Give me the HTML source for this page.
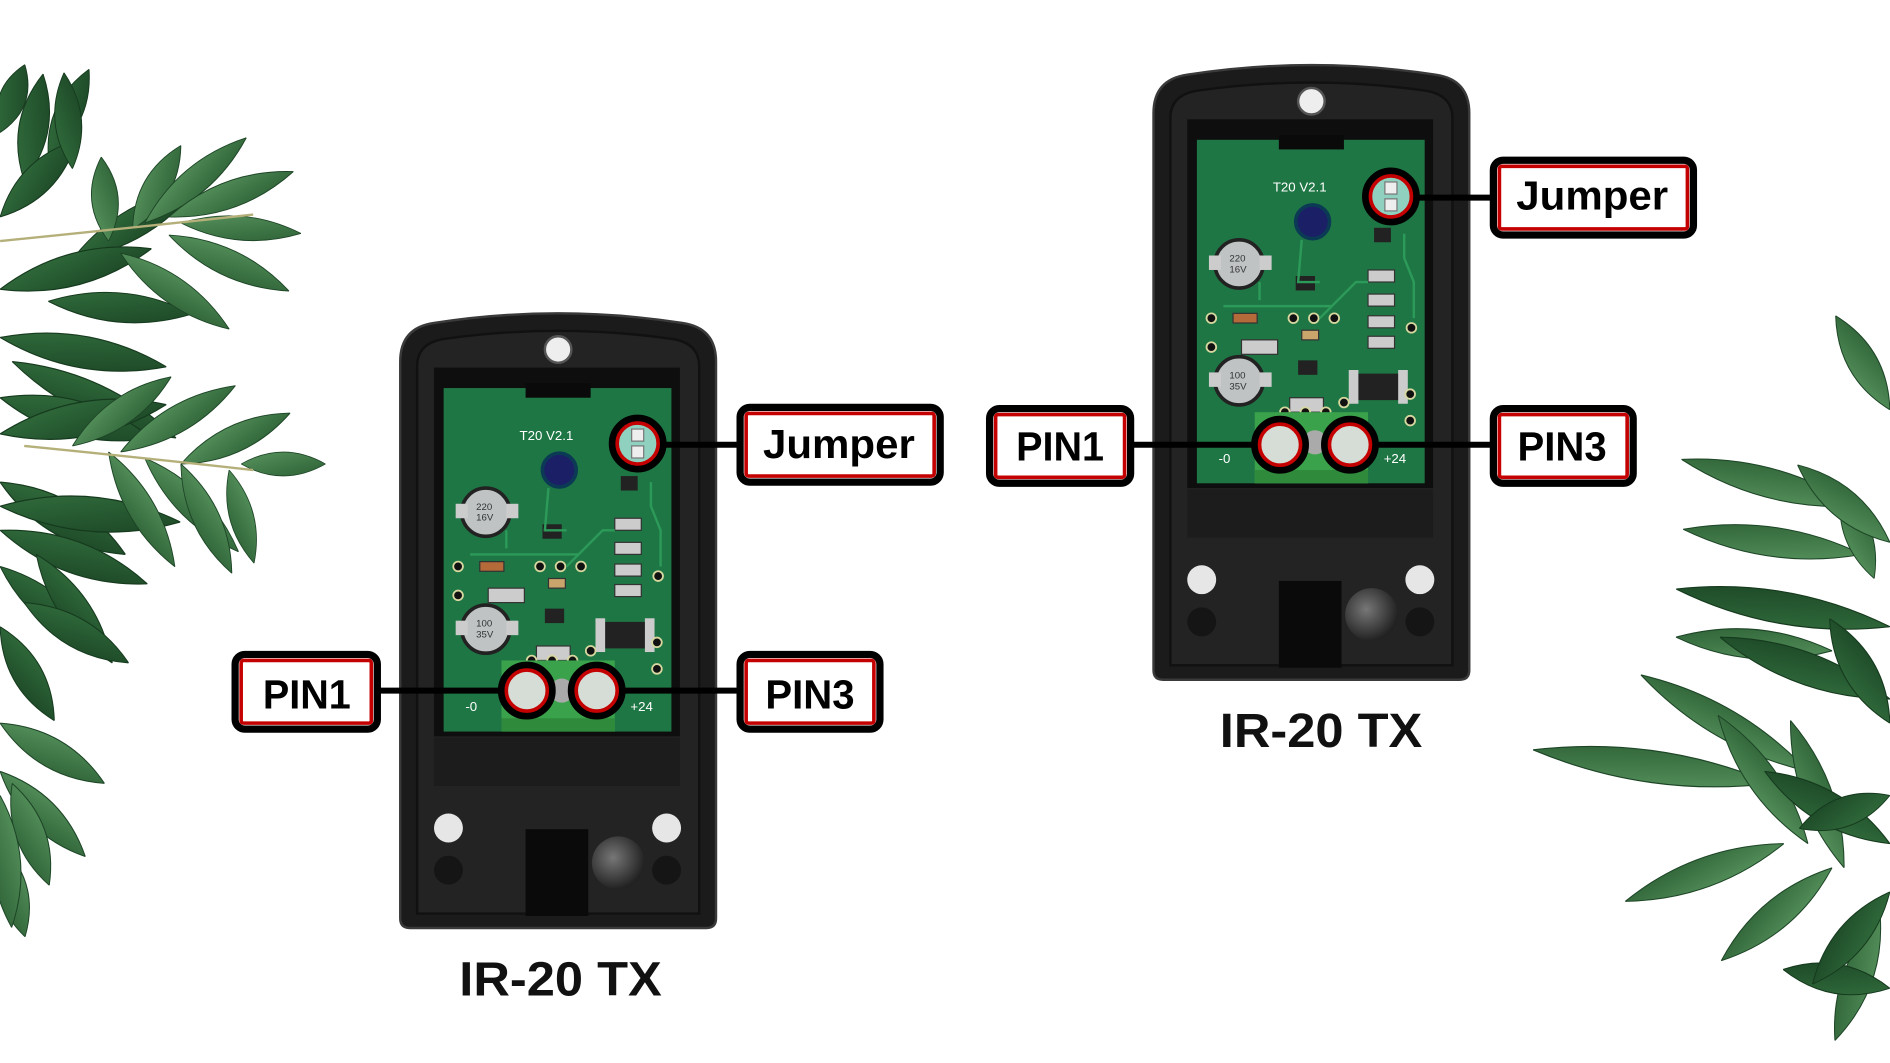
<!DOCTYPE html>
<html><head><meta charset="utf-8"><style>
html,body{margin:0;padding:0;background:#fff;}
svg{display:block;}
text{font-family:"Liberation Sans",sans-serif;}
</style></head><body>
<svg width="1890" height="1063" viewBox="0 0 1568 882" xmlns="http://www.w3.org/2000/svg">
<defs>
<linearGradient id="lf" x1="0" y1="0" x2="1" y2="1"><stop offset="0" stop-color="#5a9660"/><stop offset="1" stop-color="#2a5e33"/></linearGradient>
<linearGradient id="lf2" x1="0" y1="0" x2="1" y2="1"><stop offset="0" stop-color="#336f3e"/><stop offset="1" stop-color="#1a4424"/></linearGradient>
<radialGradient id="dome" cx="0.4" cy="0.4" r="0.6"><stop offset="0" stop-color="#777"/><stop offset="1" stop-color="#222"/></radialGradient>
<path id="L" d="M0,0 Q50,-11 100,0 Q50,11 0,0Z"/>
<g id="dev">
  <path d="M332,300 Q332,272 360,268 Q463,252 566,268 Q594,272 594,300 L594,762 Q594,770 586,770 L340,770 Q332,770 332,762Z" fill="#1b1b1b" stroke="#3a3a3a" stroke-width="2"/>
  <path d="M346,304 Q346,284 370,281 Q463,268 556,281 Q580,284 580,304 L580,758 L346,758Z" fill="#232323" stroke="#111" stroke-width="2"/>
  <circle cx="463" cy="290" r="11" fill="#eee" stroke="#555" stroke-width="2"/>
  <rect x="360" y="305" width="204" height="306" fill="#0e0e0e"/>
  <rect x="368" y="322" width="189" height="285" fill="#1f7645"/>
  <rect x="436" y="318" width="54" height="12" fill="#0a0a0a"/>
  <rect x="360" y="612" width="204" height="40" fill="#1c1c1c"/>
  <circle cx="372" cy="687" r="12" fill="#e6e6e6"/><circle cx="553" cy="687" r="12" fill="#e6e6e6"/>
  <circle cx="372" cy="722" r="12" fill="#151515"/><circle cx="553" cy="722" r="12" fill="#151515"/>
  <rect x="436" y="688" width="52" height="72" fill="#0a0a0a"/>
  <circle cx="513" cy="716" r="22" fill="url(#dome)"/>
  <circle cx="464" cy="390" r="14" fill="#1b1f66" stroke="#0b3a55" stroke-width="3"/>
  <circle cx="403" cy="425" r="20" fill="#bfc3c3" stroke="#222" stroke-width="3"/>
  <circle cx="403" cy="522" r="20" fill="#bfc3c3" stroke="#222" stroke-width="3"/>
  <rect x="378" y="418" width="10" height="12" fill="#ccc"/><rect x="420" y="418" width="10" height="12" fill="#ccc"/>
  <rect x="378" y="515" width="10" height="12" fill="#ccc"/><rect x="420" y="515" width="10" height="12" fill="#ccc"/>
  <g fill="#ccc" stroke="#333" stroke-width="1">
   <rect x="510" y="430" width="22" height="10"/><rect x="510" y="450" width="22" height="10"/><rect x="510" y="468" width="22" height="10"/><rect x="510" y="485" width="22" height="10"/>
   <rect x="398" y="466" width="20" height="8" fill="#b56a3a"/><rect x="405" y="488" width="30" height="12"/><rect x="445" y="536" width="28" height="12"/>
   <rect x="455" y="480" width="14" height="8" fill="#c9a56b"/>
  </g>
  <rect x="500" y="516" width="36" height="22" fill="#222"/><rect x="535" y="513" width="8" height="28" fill="#ccc"/><rect x="494" y="513" width="8" height="28" fill="#ccc"/>
  <rect x="450" y="435" width="16" height="12" fill="#222"/><rect x="452" y="505" width="16" height="12" fill="#222"/><rect x="515" y="395" width="14" height="12" fill="#222"/>
  <g fill="#111" stroke="#d7d7a0" stroke-width="1.5">
   <circle cx="448" cy="470" r="4"/><circle cx="465" cy="470" r="4"/><circle cx="482" cy="470" r="4"/><circle cx="441" cy="548" r="4"/><circle cx="458" cy="548" r="4"/><circle cx="475" cy="548" r="4"/><circle cx="380" cy="470" r="4"/><circle cx="380" cy="494" r="4"/><circle cx="546" cy="478" r="4"/><circle cx="545" cy="533" r="4"/><circle cx="545" cy="555" r="4"/><circle cx="490" cy="540" r="4"/>
  </g>
  <g fill="none" stroke="#2c9a58" stroke-width="2">
   <path d="M455,405 L452,440 L470,440 M470,470 L500,440 L510,440 M540,400 L540,420 L548,440 L548,470 M390,460 L480,460 M420,455 L420,440"/>
  </g>
  <rect x="416" y="548" width="94" height="59" fill="#3aa24a"/>
  <rect x="416" y="596" width="94" height="11" fill="#2f8a3c"/>
  <circle cx="466" cy="573" r="10" fill="#aaa"/>
</g>
<g id="ring"><circle r="21" fill="none" stroke="#000" stroke-width="6"/><circle r="17" fill="none" stroke="#c40000" stroke-width="3"/></g>
</defs>
<rect width="1568" height="882" fill="#fff"/>

<!-- left leaves: dark mass -->
<g fill="url(#lf2)" stroke="#163a1e" stroke-width="0.4">
<use href="#L" transform="translate(60,215) rotate(-30) scale(1.2,2.2)"/>
<use href="#L" transform="translate(20,150) rotate(-80) scale(0.9,2.2)"/>
<use href="#L" transform="translate(40,130) rotate(-65) scale(0.8,2)"/>
<use href="#L" transform="translate(0,240) rotate(-15) scale(1.3,2.4)"/>
<use href="#L" transform="translate(0,280) rotate(10) scale(1.4,2.4)"/>
<use href="#L" transform="translate(10,300) rotate(25) scale(1.5,2.4)"/>
<use href="#L" transform="translate(0,330) rotate(15) scale(1.3,2.6)"/>
<use href="#L" transform="translate(0,400) rotate(30) scale(1.2,2.6)"/>
<use href="#L" transform="translate(0,440) rotate(20) scale(1.3,2.4)"/>
<use href="#L" transform="translate(0,470) rotate(40) scale(1.1,2.2)"/>
<use href="#L" transform="translate(30,460) rotate(55) scale(1.1,2.2)"/>
<use href="#L" transform="translate(0,520) rotate(60) scale(0.9,2.2)"/>
<use href="#L" transform="translate(40,250) rotate(5) scale(1.2,2.2)"/>
<use href="#L" transform="translate(0,180) rotate(-45) scale(0.9,2.2)"/>
<use href="#L" transform="translate(0,110) rotate(-70) scale(0.6,2)"/>
<use href="#L" transform="translate(0,360) rotate(-10) scale(1.4,2.6)"/>
<use href="#L" transform="translate(0,420) rotate(5) scale(1.5,2.6)"/>
<use href="#L" transform="translate(20,500) rotate(30) scale(1.0,2.2)"/>
<use href="#L" transform="translate(60,140) rotate(-95) scale(0.8,2)"/>
</g>
<g fill="url(#lf)" stroke="#1d4526" stroke-width="0.4">
<use href="#L" transform="translate(110,190) rotate(-60) scale(0.8,2)"/>
<use href="#L" transform="translate(90,200) rotate(-95) scale(0.7,2)"/>
<use href="#L" transform="translate(120,185) rotate(-40) scale(1.1,2)"/>
<use href="#L" transform="translate(140,180) rotate(-20) scale(1.1,2)"/>
<use href="#L" transform="translate(150,185) rotate(5) scale(1.0,1.8)"/>
<use href="#L" transform="translate(140,195) rotate(25) scale(1.1,2)"/>
<use href="#L" transform="translate(100,210) rotate(35) scale(1.1,2)"/>
<use href="#L" transform="translate(60,370) rotate(-35) scale(1.0,2)"/>
<use href="#L" transform="translate(100,375) rotate(-30) scale(1.1,2)"/>
<use href="#L" transform="translate(150,385) rotate(-25) scale(1.0,2)"/>
<use href="#L" transform="translate(200,385) rotate(0) scale(0.7,1.8)"/>
<use href="#L" transform="translate(120,380) rotate(45) scale(1.1,2)"/>
<use href="#L" transform="translate(150,385) rotate(65) scale(1.0,2)"/>
<use href="#L" transform="translate(190,390) rotate(75) scale(0.8,1.8)"/>
<use href="#L" transform="translate(90,375) rotate(60) scale(1.1,2)"/>
<use href="#L" transform="translate(0,600) rotate(30) scale(1.0,2.2)"/>
<use href="#L" transform="translate(0,640) rotate(45) scale(1.0,2.2)"/>
<use href="#L" transform="translate(10,650) rotate(70) scale(0.9,2.2)"/>
<use href="#L" transform="translate(0,700) rotate(75) scale(0.8,2.2)"/>
<use href="#L" transform="translate(0,660) rotate(85) scale(1.1,2.2)"/>
</g>
<path d="M0,200 Q100,190 210,178 M20,370 Q120,380 210,390" stroke="#b5b07a" stroke-width="2" fill="none"/>

<!-- right leaves -->
<g fill="url(#lf)" stroke="#1d4526" stroke-width="0.4">
<use href="#L" transform="translate(1568,340) rotate(-120) scale(0.9,2.2)"/>
<use href="#L" transform="translate(1540,420) rotate(-165) scale(1.5,2.2)"/>
<use href="#L" transform="translate(1545,460) rotate(-172) scale(1.5,2.2)"/>
<use href="#L" transform="translate(1555,480) rotate(-110) scale(0.8,2)"/>
<use href="#L" transform="translate(1568,450) rotate(-140) scale(1.0,2.2)"/>
<use href="#L" transform="translate(1520,540) rotate(-175) scale(1.3,2.2)"/>
<use href="#L" transform="translate(1500,640) rotate(-150) scale(1.6,2.2)"/>
<use href="#L" transform="translate(1470,650) rotate(-172) scale(2.0,2.4)"/>
<use href="#L" transform="translate(1480,700) rotate(-200) scale(1.4,2.2)"/>
<use href="#L" transform="translate(1500,700) rotate(-125) scale(1.3,2.2)"/>
<use href="#L" transform="translate(1530,720) rotate(-110) scale(1.3,2.2)"/>
<use href="#L" transform="translate(1520,720) rotate(140) scale(1.2,2.2)"/>
<use href="#L" transform="translate(1560,760) rotate(110) scale(1.1,2.2)"/>
</g>
<g fill="url(#lf2)" stroke="#163a1e" stroke-width="0.4">
<use href="#L" transform="translate(1568,520) rotate(-170) scale(1.8,2.4)"/>
<use href="#L" transform="translate(1568,580) rotate(-160) scale(1.5,2.4)"/>
<use href="#L" transform="translate(1568,700) rotate(-150) scale(1.2,2.4)"/>
<use href="#L" transform="translate(1568,820) rotate(-170) scale(0.9,2.2)"/>
<use href="#L" transform="translate(1568,600) rotate(-120) scale(1.0,2.4)"/>
<use href="#L" transform="translate(1568,660) rotate(160) scale(0.8,2.2)"/>
<use href="#L" transform="translate(1568,740) rotate(130) scale(1.0,2.2)"/>
</g>

<!-- devices -->
<use href="#dev"/>
<use href="#dev" transform="translate(625,-206)"/>

<g fill="#fff" font-family="Liberation Mono, monospace" font-size="11">
<text x="431" y="365">T20 V2.1</text><text x="386" y="590">-0</text><text x="523" y="590">+24</text>
<text x="1056" y="159">T20 V2.1</text><text x="1011" y="384">-0</text><text x="1148" y="384">+24</text>
</g>
<g fill="#333" font-size="8" font-family="Liberation Sans, sans-serif">
<text x="395" y="423">220</text><text x="395" y="432">16V</text><text x="395" y="520">100</text><text x="395" y="529">35V</text>
<text x="1020" y="217">220</text><text x="1020" y="226">16V</text><text x="1020" y="314">100</text><text x="1020" y="323">35V</text>
</g>

<g stroke="#000" stroke-width="5">
<line x1="550" y1="369" x2="614" y2="369"/><line x1="313" y1="573" x2="418" y2="573"/><line x1="516" y1="573" x2="614" y2="573"/>
<line x1="1175" y1="164" x2="1239" y2="164"/><line x1="938" y1="369" x2="1043" y2="369"/><line x1="1141" y1="369" x2="1239" y2="369"/>
</g>
<g fill="#8fd0bf"><circle cx="529" cy="368" r="17"/><circle cx="1154" cy="163" r="17"/></g>
<g fill="#d6ddd6"><circle cx="437" cy="573" r="17"/><circle cx="495" cy="573" r="17"/><circle cx="1062" cy="369" r="17"/><circle cx="1120" cy="369" r="17"/></g>
<g fill="#eee" stroke="#777"><rect x="524" y="356" width="10" height="10"/><rect x="524" y="370" width="10" height="10"/><rect x="1149" y="151" width="10" height="10"/><rect x="1149" y="165" width="10" height="10"/></g>
<use href="#ring" x="529" y="368"/><use href="#ring" x="437" y="573"/><use href="#ring" x="495" y="573"/>
<use href="#ring" x="1154" y="163"/><use href="#ring" x="1062" y="369"/><use href="#ring" x="1120" y="369"/>

<g fill="#fff" stroke="#000" stroke-width="6">
<rect x="614" y="338" width="166" height="62" rx="8"/>
<rect x="195" y="543" width="118" height="62" rx="8"/>
<rect x="614" y="543" width="116" height="62" rx="8"/>
<rect x="1239" y="133" width="166" height="62" rx="8"/>
<rect x="821" y="339" width="117" height="62" rx="8"/>
<rect x="1239" y="339" width="116" height="62" rx="8"/>
</g>
<g fill="none" stroke="#c40000" stroke-width="3">
<rect x="619" y="343" width="156" height="52" rx="2"/>
<rect x="200" y="548" width="108" height="52" rx="2"/>
<rect x="619" y="548" width="106" height="52" rx="2"/>
<rect x="1244" y="138" width="156" height="52" rx="2"/>
<rect x="826" y="344" width="107" height="52" rx="2"/>
<rect x="1244" y="344" width="106" height="52" rx="2"/>
</g>
<g fill="#000" font-weight="bold" font-size="34">
<text x="633" y="380" textLength="126" lengthAdjust="spacingAndGlyphs">Jumper</text>
<text x="218" y="588" textLength="73" lengthAdjust="spacingAndGlyphs">PIN1</text>
<text x="635" y="588" textLength="74" lengthAdjust="spacingAndGlyphs">PIN3</text>
<text x="1258" y="174" textLength="126" lengthAdjust="spacingAndGlyphs">Jumper</text>
<text x="843" y="382" textLength="73" lengthAdjust="spacingAndGlyphs">PIN1</text>
<text x="1259" y="382" textLength="74" lengthAdjust="spacingAndGlyphs">PIN3</text>
</g>
<g fill="#111" font-weight="bold" font-size="40">
<text x="381" y="826" textLength="168" lengthAdjust="spacingAndGlyphs">IR-20 TX</text>
<text x="1012" y="620" textLength="168" lengthAdjust="spacingAndGlyphs">IR-20 TX</text>
</g>
</svg>
</body></html>
